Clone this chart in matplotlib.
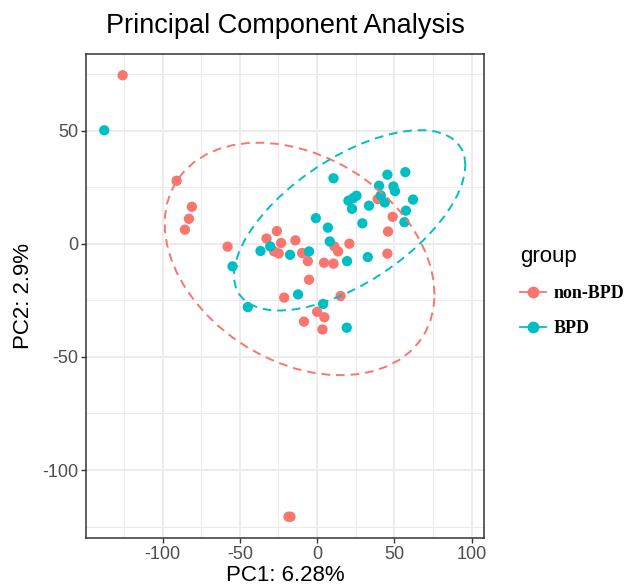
import numpy as np
import matplotlib
matplotlib.use("Agg")
import matplotlib.pyplot as plt
from matplotlib.lines import Line2D

plt.rcParams['font.family'] = ['Liberation Sans', 'DejaVu Sans']
plt.rcParams['axes.unicode_minus'] = False

# PCA scores
groups = ["non-BPD", "BPD"]
group_colors = ["#F8766D", "#00BFC4"]

non_bpd_pc1 = [-125.8, -18.5, -17.2, -90.9, -81.0, -82.9, -85.5, -57.9, -32.7, -26.0,
               -23.3, -27.8, -24.8, -14.0, -9.7, -6.0, -5.2, 4.5, -21.3, 0.0,
               4.7, -8.5, 3.5, 15.2, 39.2, 48.9, 45.9, 11.2, 13.6, 20.9,
               10.6, 45.5]
non_bpd_pc2 = [74.4, -120.6, -120.6, 27.8, 16.3, 11.0, 6.2, -1.3, 2.3, 5.6,
               0.3, -3.4, -4.3, 1.5, -4.1, -7.7, -15.9, -8.4, -23.8, -30.1,
               -32.5, -34.4, -37.9, -23.1, 19.7, 11.9, 5.4, -1.2, -3.4, 0.0,
               -8.8, -4.4]

bpd_pc1 = [-137.7, -54.7, -36.6, -30.3, -17.5, -5.2, -0.8, 7.0, 8.2, -12.3,
           -44.8, 3.9, 19.2, 10.6, 45.5, 57.1, 40.1, 49.4, 50.4, 41.2,
           43.8, 25.5, 23.3, 20.3, 22.6, 33.6, 62.1, 57.5, 56.5, 29.3,
           19.4, 32.8]
bpd_pc2 = [50.1, -10.0, -3.2, -1.2, -4.9, -3.4, 11.3, 7.1, 1.0, -22.4,
           -28.0, -26.6, -37.1, 28.9, 30.5, 31.6, 25.6, 25.3, 23.2, 21.3,
           18.2, 21.2, 20.1, 19.0, 15.4, 16.8, 19.5, 14.6, 9.5, 9.0,
           -7.7, -5.9]


def cov_trob(x, nu=5, maxit=25, tol=0.01):
    # robust multivariate t covariance (same idea as MASS::cov.trob)
    n, p = x.shape
    loc = x.mean(axis=0)
    w = np.ones(n)
    for _ in range(maxit):
        w0 = w
        X = x - loc
        _, d, vt = np.linalg.svd(np.sqrt(w / w.sum())[:, None] * X, full_matrices=False)
        wX = X @ vt.T @ np.diag(1 / d)
        Q = (wX ** 2).sum(axis=1)
        w = (nu + p) / (nu + Q)
        loc = (w[:, None] * x).sum(axis=0) / w.sum()
        if np.all(np.abs(w - w0) < tol):
            break
    cov = (np.sqrt(w)[:, None] * X).T @ (np.sqrt(w)[:, None] * X) / n
    return loc, cov


def t_ellipse(xs, ys, level=0.95, segments=51):
    data = np.column_stack([xs, ys])
    center, shape = cov_trob(data)
    dfd = len(data) - 1
    # F quantile for dfn = 2 has a closed form
    fq = (dfd / 2) * ((1 - level) ** (-2 / dfd) - 1)
    radius = np.sqrt(2 * fq)
    chol = np.linalg.cholesky(shape).T
    ang = np.arange(segments + 1) * 2 * np.pi / segments
    circle = np.column_stack([np.cos(ang), np.sin(ang)])
    return center + radius * (circle @ chol)


fig = plt.figure(figsize=(6.29, 5.88), dpi=100)
ax = fig.add_axes([86 / 629, 1 - 538 / 588, (484 - 86) / 629, (538 - 54) / 588])

series = [(non_bpd_pc1, non_bpd_pc2), (bpd_pc1, bpd_pc2)]
for (xs, ys), col in zip(series, group_colors):
    ax.scatter(xs, ys, s=55, color=col, edgecolors='none', zorder=3)
for (xs, ys), col in zip(series, group_colors):
    ell = t_ellipse(xs, ys)
    ax.plot(ell[:, 0], ell[:, 1], color=col, lw=1.4, dashes=(4.5, 3), zorder=4)

ax.set_xlim(-149.5, 108)
ax.set_ylim(-130, 83.8)
ax.set_xticks([-100, -50, 0, 50, 100])
ax.set_yticks([-100, -50, 0, 50])
ax.set_xticks(np.arange(-125, 110, 50), minor=True)
ax.set_yticks(np.arange(-125, 90, 50), minor=True)
ax.grid(True, which='major', color='#EBEBEB', lw=1.3, zorder=0)
ax.grid(True, which='minor', color='#EBEBEB', lw=0.7, zorder=0)
ax.set_axisbelow(True)
ax.tick_params(which='minor', length=0)
ax.tick_params(which='major', length=3.5, width=1, color='#333333',
               labelsize=13, labelcolor='#4D4D4D', pad=2)
for sp in ax.spines.values():
    sp.set_color('#333333')
    sp.set_linewidth(1.1)

ax.set_xlabel('PC1: 6.28%', fontsize=16, labelpad=2)
ax.set_ylabel('PC2: 2.9%', fontsize=16, labelpad=6)
fig.text((86 + 484) / 2 / 629, 1 - 26 / 588, 'Principal Component Analysis',
         fontsize=19.5, ha='center', va='center')

handles = [Line2D([0], [0], color=c, lw=1.3, marker='o', markersize=7.5)
           for c in group_colors]
leg = ax.legend(handles, groups, title='group', loc='upper left',
                bbox_to_anchor=(504 / 629, 1 - 230 / 588), bbox_transform=fig.transFigure,
                frameon=False, handlelength=1.4, handletextpad=0.45, labelspacing=1.0,
                prop={'family': 'Liberation Serif', 'weight': 'bold', 'size': 13},
                title_fontproperties={'family': 'Liberation Sans', 'size': 16})
leg._legend_box.align = 'left'

fig.savefig('out.png', dpi=100)
